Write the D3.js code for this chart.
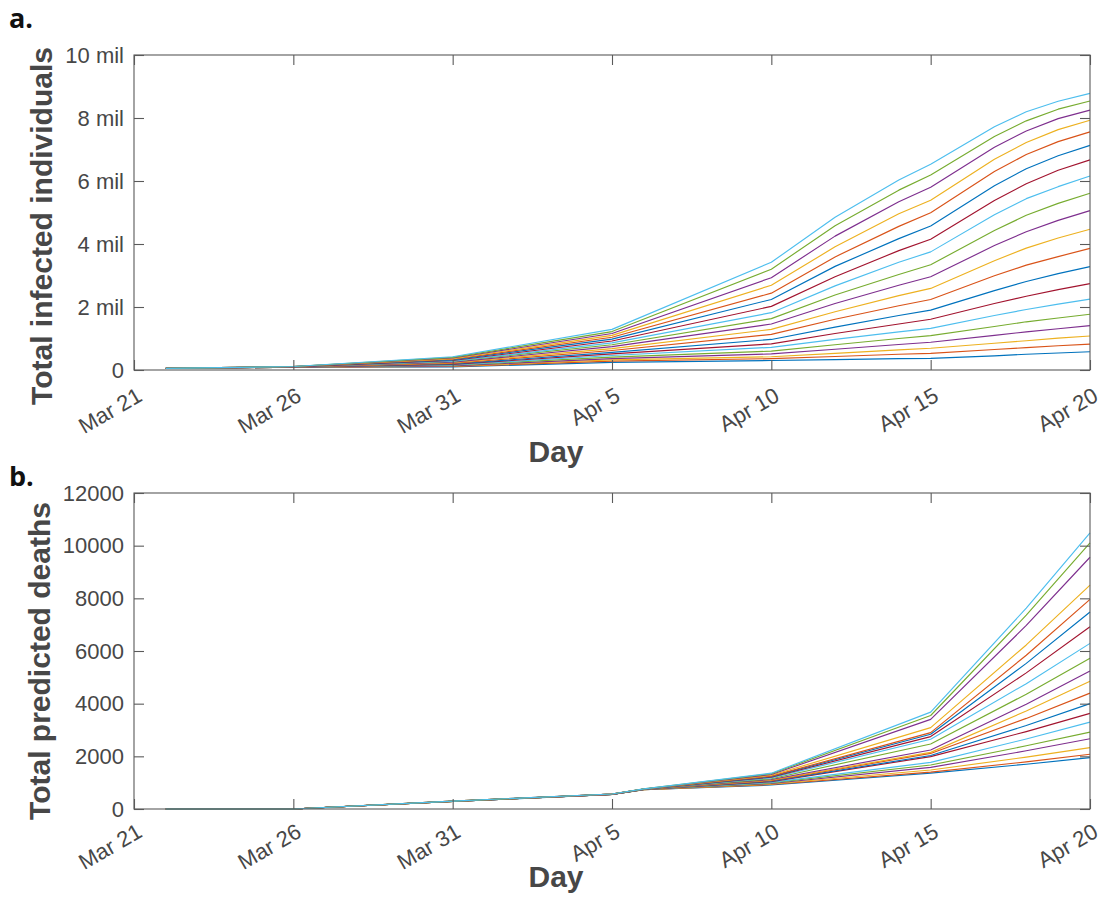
<!DOCTYPE html>
<html>
<head>
<meta charset="utf-8">
<script src="https://cdn.jsdelivr.net/npm/d3@7"></script>
<style>
  body { margin: 0; background: #fff; }
  svg { display: block; font-family: "Liberation Sans", Arial, Helvetica, sans-serif; }
</style>
</head>
<body>
<script>
// MATLAB default line colour order
const colorOrder = ["#0072BD", "#D95319", "#EDB120", "#7E2F8E", "#77AC30", "#4DBEEE", "#A2142F"];

// x-axis tick dates (every 5 days)
const tickDates = ["2020-03-21", "2020-03-26", "2020-03-31", "2020-04-05", "2020-04-10", "2020-04-15", "2020-04-20"];

// Panel a: total infected individuals (millions), one row per scenario
const infectedDates = ["2020-03-22", "2020-03-26", "2020-03-31", "2020-04-05", "2020-04-10", "2020-04-12",
                       "2020-04-14", "2020-04-15", "2020-04-17", "2020-04-18", "2020-04-19", "2020-04-20"];
const infected = [
  [0.05, 0.09, 0.10, 0.24, 0.30, 0.33, 0.36, 0.37, 0.45, 0.50, 0.54, 0.58],
  [0.05, 0.09, 0.11, 0.28, 0.36, 0.43, 0.50, 0.53, 0.65, 0.71, 0.77, 0.82],
  [0.05, 0.09, 0.12, 0.32, 0.42, 0.53, 0.64, 0.69, 0.85, 0.93, 1.01, 1.08],
  [0.05, 0.09, 0.13, 0.36, 0.51, 0.66, 0.81, 0.88, 1.10, 1.21, 1.31, 1.41],
  [0.05, 0.09, 0.15, 0.41, 0.60, 0.80, 1.00, 1.09, 1.38, 1.53, 1.65, 1.77],
  [0.05, 0.09, 0.16, 0.46, 0.72, 0.97, 1.21, 1.32, 1.73, 1.92, 2.09, 2.25],
  [0.05, 0.09, 0.18, 0.51, 0.83, 1.16, 1.46, 1.61, 2.11, 2.34, 2.55, 2.74],
  [0.05, 0.10, 0.19, 0.56, 0.97, 1.36, 1.73, 1.90, 2.52, 2.81, 3.06, 3.28],
  [0.05, 0.10, 0.21, 0.62, 1.13, 1.61, 2.04, 2.24, 2.99, 3.33, 3.60, 3.86],
  [0.05, 0.10, 0.23, 0.68, 1.29, 1.85, 2.36, 2.59, 3.47, 3.87, 4.19, 4.47],
  [0.05, 0.10, 0.25, 0.74, 1.46, 2.11, 2.69, 2.96, 3.95, 4.39, 4.75, 5.06],
  [0.05, 0.10, 0.27, 0.80, 1.63, 2.38, 3.03, 3.34, 4.43, 4.91, 5.29, 5.61],
  [0.05, 0.10, 0.28, 0.86, 1.82, 2.67, 3.42, 3.75, 4.93, 5.44, 5.82, 6.16],
  [0.05, 0.10, 0.30, 0.92, 2.02, 2.96, 3.79, 4.15, 5.38, 5.91, 6.34, 6.67],
  [0.05, 0.11, 0.32, 0.98, 2.24, 3.29, 4.17, 4.57, 5.85, 6.39, 6.80, 7.13],
  [0.05, 0.11, 0.34, 1.04, 2.44, 3.59, 4.56, 4.99, 6.30, 6.84, 7.25, 7.56],
  [0.05, 0.11, 0.36, 1.10, 2.69, 3.91, 4.96, 5.39, 6.69, 7.22, 7.63, 7.93],
  [0.05, 0.11, 0.38, 1.16, 2.93, 4.25, 5.34, 5.80, 7.07, 7.59, 7.98, 8.25],
  [0.05, 0.11, 0.40, 1.22, 3.20, 4.58, 5.71, 6.19, 7.41, 7.91, 8.28, 8.54],
  [0.05, 0.11, 0.42, 1.29, 3.42, 4.85, 6.03, 6.53, 7.72, 8.20, 8.53, 8.78]
];
const infectedTicks = [0, 2, 4, 6, 8, 10];

// Panel b: total predicted deaths, one row per scenario
const deathDates = ["2020-03-22", "2020-03-26", "2020-03-31", "2020-04-05", "2020-04-06",
                    "2020-04-10", "2020-04-15", "2020-04-18", "2020-04-20"];
const deaths = [
  [0, 0, 285, 550, 735,  910, 1360, 1700,  1950],
  [0, 0, 286, 551, 737,  930, 1400, 1790,  2080],
  [0, 0, 287, 552, 738,  950, 1480, 1970,  2330],
  [0, 0, 288, 553, 740,  970, 1580, 2210,  2670],
  [0, 0, 288, 554, 741,  990, 1670, 2400,  2920],
  [0, 0, 289, 555, 743, 1010, 1770, 2660,  3300],
  [0, 0, 290, 556, 744, 1040, 1990, 2940,  3630],
  [0, 0, 291, 557, 746, 1060, 2030, 3170,  4000],
  [0, 0, 292, 558, 747, 1080, 2110, 3440,  4400],
  [0, 0, 292, 559, 749, 1100, 2150, 3720,  4850],
  [0, 0, 293, 560, 750, 1120, 2240, 3980,  5240],
  [0, 0, 294, 561, 752, 1150, 2470, 4360,  5720],
  [0, 0, 295, 562, 753, 1180, 2650, 4760,  6290],
  [0, 0, 296, 563, 755, 1210, 2750, 5170,  6920],
  [0, 0, 296, 564, 756, 1230, 2840, 5530,  7480],
  [0, 0, 297, 565, 758, 1250, 2900, 5840,  7960],
  [0, 0, 298, 566, 759, 1280, 3090, 6230,  8500],
  [0, 0, 299, 567, 761, 1310, 3405, 6970,  9560],
  [0, 0, 300, 568, 762, 1340, 3550, 7360, 10110],
  [0, 0, 300, 570, 765, 1360, 3680, 7630, 10490]
];
const deathTicks = [0, 2000, 4000, 6000, 8000, 10000, 12000];

const W = 1102, H = 897;
const parse = d3.utcParse("%Y-%m-%d");
const fmtDate = d3.utcFormat("%b %-d");
const axisColor = "#5a5a5a";
const textColor = "#474747";
const tickFont = "22px";

const svg = d3.select("body").append("svg").attr("width", W).attr("height", H);
svg.append("rect").attr("width", W).attr("height", H).attr("fill", "#fff");

function drawPanel(p) {
  const x = d3.scaleUtc()
    .domain([parse(tickDates[0]), parse(tickDates[tickDates.length - 1])])
    .range([p.left, p.right]);
  const y = d3.scaleLinear().domain(p.yDomain).range([p.bottom, p.top]);
  const g = svg.append("g");
  const dates = p.dates.map(parse);

  // series lines, first row drawn first
  const line = d3.line().x((d, i) => x(dates[i])).y(d => y(d));
  g.append("g").selectAll("path").data(p.values).join("path")
    .attr("d", line)
    .attr("fill", "none")
    .attr("stroke", (d, i) => colorOrder[i % colorOrder.length])
    .attr("stroke-width", 1.15)
    .attr("stroke-linejoin", "round");

  const tickVals = tickDates.map(parse);

  // box outline
  g.append("rect")
    .attr("x", p.left).attr("y", p.top)
    .attr("width", p.right - p.left).attr("height", p.bottom - p.top)
    .attr("fill", "none").attr("stroke", axisColor).attr("stroke-width", 1.1);

  // bottom axis with inward ticks and rotated date labels
  const bottom = g.append("g").attr("transform", `translate(0,${p.bottom})`)
    .call(d3.axisBottom(x).tickValues(tickVals).tickFormat(fmtDate).tickSizeInner(-10).tickSizeOuter(0));
  bottom.select(".domain").remove();
  bottom.selectAll("line").attr("stroke", axisColor).attr("stroke-width", 1.1);
  bottom.selectAll("text")
    .attr("y", 0).attr("dy", null).attr("x", 0)
    .attr("text-anchor", "end")
    .attr("transform", `translate(9,${p.labelDrop}) rotate(-30)`)
    .attr("fill", textColor).style("font-size", tickFont)
    .style("font-family", "'Liberation Sans', Arial, sans-serif");

  // top axis: ticks only
  const top = g.append("g").attr("transform", `translate(0,${p.top})`)
    .call(d3.axisTop(x).tickValues(tickVals).tickFormat("").tickSizeInner(-10).tickSizeOuter(0));
  top.select(".domain").remove();
  top.selectAll("line").attr("stroke", axisColor).attr("stroke-width", 1.1);

  // left axis with labels
  const left = g.append("g").attr("transform", `translate(${p.left},0)`)
    .call(d3.axisLeft(y).tickValues(p.yTicks).tickFormat(p.yFormat).tickSizeInner(-10).tickSizeOuter(0).tickPadding(10));
  left.select(".domain").remove();
  left.selectAll("line").attr("stroke", axisColor).attr("stroke-width", 1.1);
  left.selectAll("text").attr("fill", textColor).style("font-size", tickFont)
    .style("font-family", "'Liberation Sans', Arial, sans-serif");

  // right axis: ticks only
  const right = g.append("g").attr("transform", `translate(${p.right},0)`)
    .call(d3.axisRight(y).tickValues(p.yTicks).tickFormat("").tickSizeInner(-10).tickSizeOuter(0));
  right.select(".domain").remove();
  right.selectAll("line").attr("stroke", axisColor).attr("stroke-width", 1.1);

  // axis titles
  g.append("text")
    .attr("transform", `translate(${p.yTitleX},${p.yTitleY}) rotate(-90)`)
    .attr("text-anchor", "middle")
    .attr("fill", textColor)
    .style("font-size", "30px").style("font-weight", "bold")
    .text(p.yTitle);
  g.append("text")
    .attr("x", p.xTitleX).attr("y", p.xTitleY)
    .attr("text-anchor", "middle")
    .attr("fill", textColor)
    .style("font-size", "30px").style("font-weight", "bold")
    .text("Day");

  // panel letter
  g.append("text")
    .attr("x", 9).attr("y", p.letterY)
    .attr("fill", "#111")
    .style("font-family", "'Open Sans', 'Noto Sans', sans-serif")
    .style("font-size", "27px").style("font-weight", "bold")
    .text(p.letter);
}

drawPanel({
  letter: "a.", letterY: 28,
  left: 134, right: 1090, top: 55, bottom: 370,
  dates: infectedDates, values: infected,
  yDomain: [0, 10], yTicks: infectedTicks,
  yFormat: d => d === 0 ? "0" : `${d} mil`,
  yTitle: "Total infected individuals", yTitleX: 52, yTitleY: 226,
  xTitleX: 556, xTitleY: 462, labelDrop: 30
});

drawPanel({
  letter: "b.", letterY: 486,
  left: 134, right: 1090, top: 493, bottom: 809,
  dates: deathDates, values: deaths,
  yDomain: [0, 12000], yTicks: deathTicks,
  yFormat: d => String(d),
  yTitle: "Total predicted deaths", yTitleX: 50, yTitleY: 661,
  xTitleX: 556, xTitleY: 887, labelDrop: 27
});
</script>
</body>
</html>
